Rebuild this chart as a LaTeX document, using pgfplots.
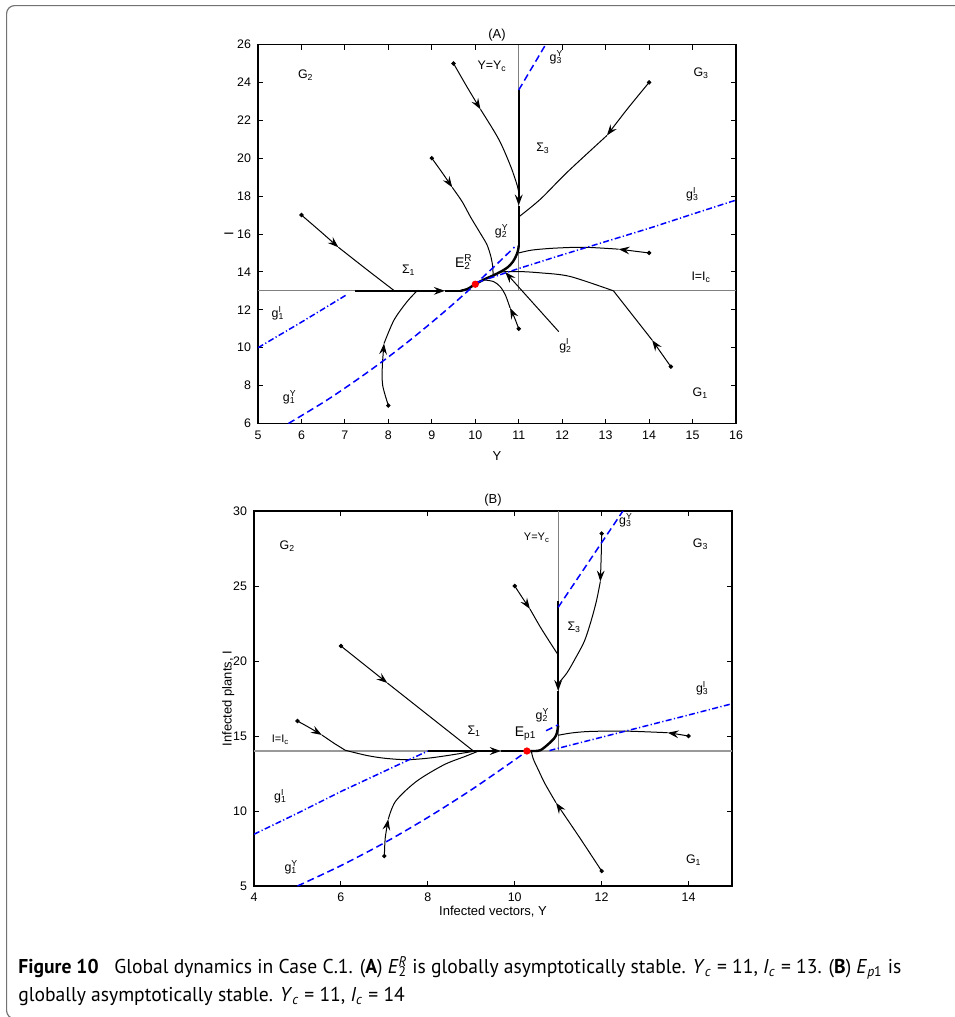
\documentclass[border=0pt]{standalone}
\usepackage{fontspec}
\setmainfont{Liberation Sans}
\newfontfamily\capfont{PT Sans}
\usepackage{graphicx}
\usepackage{pgfplots}
\pgfplotsset{compat=1.18}
\usetikzlibrary{arrows.meta}

\newcommand{\gss}[3]{#1\rlap{\textsuperscript{#3}}\textsubscript{#2}}

\tikzset{lab/.style={font=\fontsize{6.2}{7}\selectfont, inner sep=0pt}}
\pgfplotsset{
 traj/.style={black, line width=0.5pt, smooth, tension=0.5, mark=none},
 tline/.style={black, line width=0.5pt, mark=none},
 bold/.style={black, line width=1.2pt, mark=none},
 arr/.style={-{Stealth[length=5.5pt,width=3.9pt,inset=2pt]}},
 refl/.style={black!50, line width=0.45pt, mark=none},
 bdash/.style={blue, line width=0.75pt, dash pattern=on 3.5pt off 2pt, mark=none},
 bdd/.style={blue, line width=0.75pt, dash pattern=on 3pt off 1.2pt on 0.6pt off 1.2pt, mark=none},
 dots/.style={only marks, mark=*, mark size=0.9pt, black},
 eq/.style={only marks, mark=*, mark size=1.6pt, red},
 myaxis/.style={anchor=south west, scale only axis, tick align=inside,
   major tick length=2.5pt, axis line style={line width=0.6pt},
   every tick/.style={black, line width=0.45pt},
   tick label style={font=\fontsize{6.2}{7}\selectfont},
   label style={font=\fontsize{6.5}{7.5}\selectfont},
   /pgf/number format/assume math mode=true},
}

\begin{document}
\newsavebox\capA
\newsavebox\capB
\sbox\capA{\capfont\fontsize{10}{12}\selectfont\textbf{Figure 10}\hspace{0.8em}Global dynamics in Case C.1. (\textbf{A}) \textit{E}\rlap{\textsuperscript{\textit{R}}}\textsubscript{2} is globally asymptotically stable. \textit{Y}\textsubscript{\textit{c}} = 11, \textit{I}\textsubscript{\textit{c}} = 13. (\textbf{B}) \textit{E}\textsubscript{\textit{p}1} is}%
\sbox\capB{\capfont\fontsize{10}{12}\selectfont globally asymptotically stable. \textit{Y}\textsubscript{\textit{c}} = 11, \textit{I}\textsubscript{\textit{c}} = 14}%
\pgfmathsetmacro\capsc{441.5/\the\wd\capA}%
\begin{tikzpicture}
\useasboundingbox (0,0) rectangle (477pt,-508.5pt);
\draw[line width=0.6pt, black!55, rounded corners=4pt] (490pt,-2.8pt) -- (3.3pt,-2.8pt) -- (3.3pt,-509.3pt) -- (480pt,-509.3pt);
\node[anchor=base west, inner sep=0pt] at (9pt,-486.8pt) {\scalebox{\capsc}[1]{\usebox\capA}};
\node[anchor=base west, inner sep=0pt] at (9pt,-500.8pt) {\scalebox{\capsc}[1]{\usebox\capB}};

% ---------------- (A) ----------------
\begin{axis}[myaxis,
 at={(129pt,-211.75pt)}, width=239pt, height=189.5pt,
 xmin=5, xmax=16, ymin=6, ymax=26,
 xtick={5,6,...,16}, ytick={6,8,...,26},
 xlabel={Y}, ylabel={I},
 xlabel style={at={(axis description cs:0.5,-0.087)}, anchor=center},
 ylabel style={at={(axis description cs:-0.061,0.5)}, anchor=center},
 extra description/.code={\node[font=\fontsize{6.5}{7.5}\selectfont] at (0.5,1.025) {(A)};},
]
% reference lines
\addplot[refl] coordinates {(5,13) (16,13)};
\addplot[refl] coordinates {(11,13) (11,26)};
% trajectories
\addplot[traj, arr] coordinates {(6,17) (6.42,16.17) (6.85,15.3)};
\addplot[traj] coordinates {(6.85,15.3) (7.5,14.13) (8.14,13)};
\addplot[traj, arr] coordinates {(9,20) (9.25,19.2) (9.47,18.46)};
\addplot[traj] coordinates {(9.47,18.46) (9.7,17.7) (9.89,16.9) (10.1,16.1) (10.27,15.43) (10.36,14.8) (10.4,14.3) (10.41,13.85)};
\addplot[traj, arr] coordinates {(9.5,25) (9.8,23.8) (10.12,22.58)};
\addplot[traj] coordinates {(10.12,22.58) (10.54,21.0) (10.81,19.6) (10.96,18.6) (11,18.2)};
\addplot[traj, arr] coordinates {(14,24) (13.5,22.6) (13.03,21.2)};
\addplot[traj] coordinates {(13.03,21.2) (12.11,19.25) (11.5,17.84) (11,16.9)};
\addplot[traj, arr] coordinates {(14,15) (13.65,15.1) (13.3,15.2)};
\addplot[traj] coordinates {(13.3,15.2) (12.5,15.3) (11.8,15.25) (11.3,15.15) (11,15.0)};
\addplot[tline, arr] coordinates {(14.5,9) (14.07,10.4)};
\addplot[tline] coordinates {(14.07,10.4) (13.18,13)};
\addplot[traj] coordinates {(13.18,13) (12.18,13.76) (11.5,13.95) (11,14.02) (10.57,14.0)};
\addplot[tline, arr] coordinates {(11.92,10.85) (10.69,13.99)};
\addplot[traj, arr] coordinates {(11,11) (10.9,11.6) (10.8,12.1)};
\addplot[traj] coordinates {(10.8,12.1) (10.69,12.8) (10.57,13.23) (10.42,13.49) (10.2,13.58)};
\addplot[traj, arr] coordinates {(8,6.95) (7.87,8.0) (7.86,8.98) (7.9,10.22)};
\addplot[traj] coordinates {(7.9,10.22) (8.13,11.46) (8.43,12.43) (8.66,13.0)};
% sliding segments
\addplot[bold, arr] coordinates {(7.23,13) (9.3,13)};
\addplot[bold] coordinates {(9.3,13) (9.66,13)};
\addplot[bold, smooth, tension=0.5] coordinates {(9.66,13) (9.82,13.1) (10,13.35) (10.2,13.6) (10.4,13.8) (10.6,14.03) (10.75,14.25) (10.87,14.55) (10.95,14.9) (10.99,15.2) (11,15.4)};
\addplot[bold, arr] coordinates {(11,23.6) (11,17.5)};
\addplot[bold] coordinates {(11,17.5) (11,15.35)};
% isoclines
\addplot[bdd] coordinates {(5,10) (6,11.35) (7.03,12.78)};
\addplot[bdash, smooth] coordinates {(5.7,6) (6.5,7.11) (7,7.87) (7.5,8.67) (8,9.51) (8.5,10.40) (9,11.34) (9.5,12.32) (10,13.35) (10.5,14.42) (10.9,15.31)};
\addplot[bdash] coordinates {(11,23.6) (11.62,26)};
\addplot[bdd] coordinates {(10.05,13.45) (11,14.18) (12,14.9) (13,15.6) (14,16.3) (15,17.05) (16,17.79)};
% points
\addplot[dots] coordinates {(6,17) (9,20) (9.5,25) (14,24) (14,15) (14.5,9) (11,11) (8,6.95)};
\addplot[eq] coordinates {(10,13.35)};
% labels
\node[lab] at (axis cs:6.1,24.4) {G\textsubscript{2}};
\node[lab] at (axis cs:15.2,24.5) {G\textsubscript{3}};
\node[lab] at (axis cs:15.18,7.6) {G\textsubscript{1}};
\node[lab] at (axis cs:10.39,24.86) {Y=Y\textsubscript{c}};
\node[lab] at (axis cs:11.86,25.3) {\gss{g}{3}{Y}};
\node[lab] at (axis cs:11.56,20.5) {Σ\textsubscript{3}};
\node[lab] at (axis cs:15.0,18.1) {\gss{g}{3}{I}};
\node[lab] at (axis cs:10.6,16.15) {\gss{g}{2}{Y}};
\node[lab, font=\fontsize{7}{8}\selectfont] at (axis cs:9.72,14.5) {\gss{E}{2}{R}};
\node[lab] at (axis cs:8.47,14.1) {Σ\textsubscript{1}};
\node[lab] at (axis cs:15.2,13.7) {I=I\textsubscript{c}};
\node[lab] at (axis cs:5.46,11.8) {\gss{g}{1}{I}};
\node[lab] at (axis cs:12.08,10.1) {\gss{g}{2}{I}};
\node[lab] at (axis cs:5.72,7.4) {\gss{g}{1}{Y}};
\end{axis}

% ---------------- (B) ----------------
\begin{axis}[myaxis,
 at={(127pt,-443pt)}, width=239pt, height=187.5pt,
 xmin=4, xmax=15, ymin=5, ymax=30,
 xtick={4,6,...,14}, ytick={5,10,...,30},
 xlabel={Infected vectors, Y}, ylabel={Infected plants, I},
 xlabel style={at={(axis description cs:0.5,-0.069)}, anchor=center},
 ylabel style={at={(axis description cs:-0.054,0.5)}, anchor=center},
 extra description/.code={\node[font=\fontsize{6.5}{7.5}\selectfont] at (0.5,1.03) {(B)};},
]
\addplot[black!40, line width=0.8pt, mark=none] coordinates {(4,14) (15,14)};
\addplot[refl] coordinates {(11,14) (11,30)};
% trajectories
\addplot[traj, arr] coordinates {(5,16) (5.28,15.55) (5.56,15.07)};
\addplot[tline] coordinates {(5.56,15.07) (5.85,14.5) (6.1,14.05)};
\addplot[traj] coordinates {(6.1,14.05) (6.6,13.7) (7.0,13.52) (7.5,13.42) (8.0,13.52) (8.5,13.72) (9.1,14.0)};
\addplot[tline, arr] coordinates {(6,21) (7.07,18.53)};
\addplot[tline] coordinates {(7.07,18.53) (9.05,14)};
\addplot[traj, arr] coordinates {(10,25) (10.18,24.2) (10.35,23.47)};
\addplot[traj] coordinates {(10.35,23.47) (10.59,22.26) (10.83,21.16) (11,20.4)};
\addplot[traj, arr] coordinates {(12,28.5) (11.99,27) (11.97,25.3)};
\addplot[traj] coordinates {(11.97,25.3) (11.88,24) (11.75,22.6) (11.6,21.3) (11.4,20.2) (11.2,19.2) (11,18.5)};
\addplot[traj, arr] coordinates {(14,15) (13.75,15.12) (13.52,15.22)};
\addplot[traj] coordinates {(13.52,15.22) (12.5,15.33) (11.7,15.3) (11.3,15.2) (11,15.05)};
\addplot[traj, arr] coordinates {(12,6) (11.5,8.2) (10.95,10.55)};
\addplot[traj] coordinates {(10.95,10.55) (10.7,11.8) (10.55,12.7) (10.43,13.45) (10.38,14.0)};
\addplot[traj, arr] coordinates {(7,7) (7.02,8.2) (7.09,9.45)};
\addplot[traj] coordinates {(7.09,9.45) (7.26,10.66) (7.74,11.98) (8.37,13.08) (8.85,13.63) (9.17,14)};
% sliding segments
\addplot[bold, arr] coordinates {(8,14) (9.68,14)};
\addplot[bold] coordinates {(9.68,14) (10.28,14)};
\addplot[bold, arr] coordinates {(11,24) (11,18)};
\addplot[bold] coordinates {(11,18) (11,15.7)};
\addplot[bold, smooth, tension=0.5] coordinates {(11,15.7) (10.97,15.2) (10.91,14.85) (10.75,14.4) (10.59,14.05) (10.45,14.0) (10.28,14)};
% isoclines
\addplot[bdd] coordinates {(4,8.45) (5,9.85) (6,11.3) (7,12.65) (8,14.0)};
\addplot[bdash, smooth] coordinates {(5,5) (6,6.36) (7,7.88) (8,9.57) (9,11.41) (10,13.41) (10.28,14.0)};
\addplot[bdash] coordinates {(10.72,15.35) (11,15.75)};
\addplot[bdash] coordinates {(11,23.58) (12.49,30)};
\addplot[bdd] coordinates {(10.8,14.03) (11,14.18) (12,14.92) (13,15.66) (14,16.4) (15,17.15)};
% points
\addplot[dots] coordinates {(5,16) (6,21) (10,25) (12,28.5) (14,15) (12,6) (7,7)};
\addplot[eq] coordinates {(10.28,14)};
% labels
\node[lab] at (axis cs:4.77,27.65) {G\textsubscript{2}};
\node[lab, font=\fontsize{5.5}{6.5}\selectfont] at (axis cs:10.51,28.2) {Y=Y\textsubscript{c}};
\node[lab] at (axis cs:12.55,29.4) {\gss{g}{3}{Y}};
\node[lab] at (axis cs:14.28,27.76) {G\textsubscript{3}};
\node[lab] at (axis cs:11.37,22.26) {Σ\textsubscript{3}};
\node[lab] at (axis cs:14.32,18.2) {\gss{g}{3}{I}};
\node[lab] at (axis cs:10.63,16.39) {\gss{g}{2}{Y}};
\node[lab] at (axis cs:9.07,15.29) {Σ\textsubscript{1}};
\node[lab, font=\fontsize{7}{8}\selectfont] at (axis cs:10.25,15.15) {E\textsubscript{p1}};
\node[lab, font=\fontsize{5.5}{6.5}\selectfont] at (axis cs:4.61,14.74) {I=I\textsubscript{c}};
\node[lab] at (axis cs:4.61,10.99) {\gss{g}{1}{I}};
\node[lab] at (axis cs:4.85,6.26) {\gss{g}{1}{Y}};
\node[lab] at (axis cs:14.12,6.7) {G\textsubscript{1}};
\end{axis}
\end{tikzpicture}
\end{document}
